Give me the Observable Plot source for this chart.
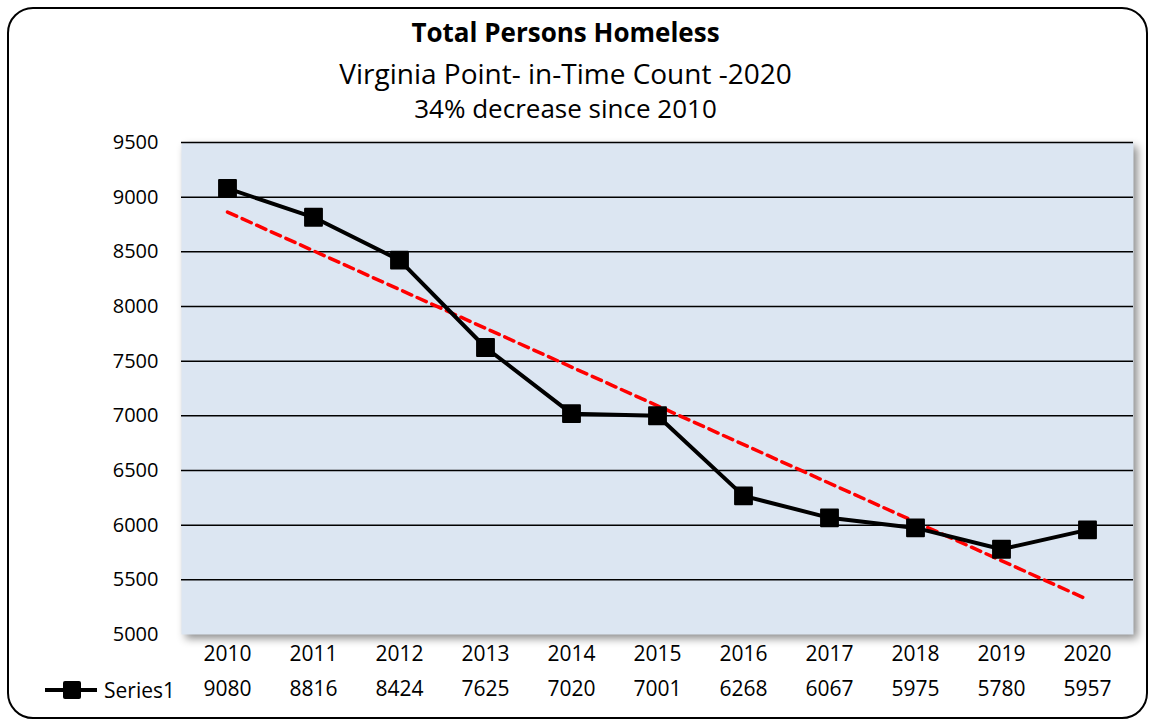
<!DOCTYPE html>
<html><head><meta charset="utf-8">
<script src="https://cdn.jsdelivr.net/npm/d3@7"></script>
<script src="https://cdn.jsdelivr.net/npm/@observablehq/plot@0.6"></script>
<style>
body{margin:0;background:#fff;font-family:"Open Sans",Lato,sans-serif;color:#000;}
#wrap{position:relative;width:1151px;height:723px;overflow:hidden;background:#fff;}
#border{position:absolute;left:7px;top:7px;border:2px solid #000;border-radius:26px;box-sizing:border-box;width:1141px;height:712px;}
.t{position:absolute;left:0;width:1131px;text-align:center;line-height:34px;white-space:nowrap;}
#chart{position:absolute;left:0;top:120px;}
#legend{position:absolute;left:40px;top:674px;overflow:visible;}
</style></head>
<body>
<div id="wrap">
  <div id="border"></div>
  <div class="t" style="top:15px;font-size:26px;font-weight:bold;">Total Persons Homeless</div>
  <div class="t" style="top:56px;font-size:28px;">Virginia Point- in-Time Count -2020</div>
  <div class="t" style="top:91px;font-size:26px;">34% decrease since 2010</div>
  <div id="chart"></div>
  <svg id="legend" width="150" height="32"></svg>
</div>
<script>
const years = ["2010","2011","2012","2013","2014","2015","2016","2017","2018","2019","2020"];
const homeless = [9080, 8816, 8424, 7625, 7020, 7001, 6268, 6067, 5975, 5780, 5957];
const yTicks = [5000, 5500, 6000, 6500, 7000, 7500, 8000, 8500, 9000, 9500];
const seriesName = "Series1";

const data = years.map((y, i) => ({year: y, value: homeless[i], i}));

// linear trendline (least squares on index)
const mx = d3.mean(data, d => d.i), my = d3.mean(data, d => d.value);
const slope = d3.sum(data, d => (d.i - mx) * (d.value - my)) / d3.sum(data, d => (d.i - mx) ** 2);
const trend = [data[0], data[data.length - 1]].map(d => ({year: d.year, value: my + slope * (d.i - mx)}));

const font = "'Open Sans', Lato, sans-serif";
const plot = Plot.plot({
  width: 1151,
  height: 594,
  marginTop: 22,
  marginBottom: 80,
  marginLeft: 181,
  marginRight: 18,
  style: {fontFamily: font, fontSize: "20.5px", color: "#000", background: "transparent", overflow: "visible"},
  x: {type: "point", domain: years, padding: 0.5, axis: null},
  y: {domain: [5000, 9500], axis: null},
  marks: [
    Plot.frame({fill: "#dce6f2", stroke: null}),
    Plot.ruleY(yTicks.filter(t => t > 5000), {stroke: "#000", strokeWidth: 1.5}),
    Plot.axisY({ticks: yTicks, tickSize: 0, tickPadding: 23, fontSize: 20, label: null, tickFormat: d => String(d)}),
    Plot.line(trend, {x: "year", y: "value", stroke: "#ff0000", strokeWidth: 3.5, strokeDasharray: "10,6"}),
    Plot.line(data, {x: "year", y: "value", stroke: "#000", strokeWidth: 4}),
    Plot.dot(data, {x: "year", y: "value", symbol: "square", r: 9.5, fill: "#000", stroke: "#000", strokeWidth: 2, strokeLinejoin: "round"}),
    Plot.text(years, {x: d => d, frameAnchor: "bottom", dy: 20, text: d => d, fontSize: 21, lineAnchor: "middle"}),
    Plot.text(data, {x: "year", frameAnchor: "bottom", dy: 55, text: d => String(d.value), fontSize: 21, lineAnchor: "middle"})
  ]
});
document.getElementById("chart").appendChild(plot);
const fr = plot.querySelector('[aria-label="frame"]');
if (fr) fr.style.filter = "drop-shadow(4px 4px 4px rgba(0,0,0,0.45))";

// legend
const lg = d3.select("#legend");
lg.append("line").attr("x1", 5).attr("x2", 57).attr("y1", 16).attr("y2", 16).attr("stroke", "#000").attr("stroke-width", 4);
lg.append("rect").attr("x", 23).attr("y", 7).attr("width", 18).attr("height", 18).attr("rx", 2).attr("fill", "#000");
lg.append("text").attr("x", 64).attr("y", 16).attr("dominant-baseline", "central").attr("font-size", 21).attr("font-family", font).text(seriesName);
</script>
</body></html>
